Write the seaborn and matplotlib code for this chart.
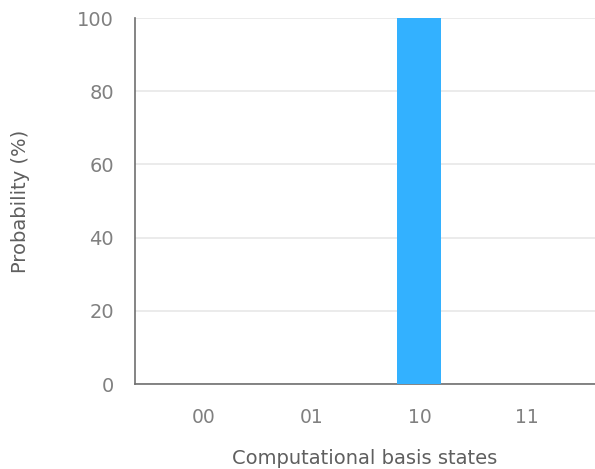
import matplotlib
matplotlib.use("Agg")
import matplotlib.pyplot as plt
import seaborn as sns
import pandas as pd

states = ["00", "01", "10", "11"]
probability = [0, 0, 100, 0]

sns.set_style("white")
plt.rcParams['font.family'] = ['DejaVu Sans']

df = pd.DataFrame({"state": states, "prob": probability})

fig = plt.figure(figsize=(5.95, 4.69), dpi=100)
ax = fig.add_axes([135 / 595, 1 - 384 / 469, 460 / 595, (384 - 18) / 469])

sns.barplot(data=df, x="state", y="prob", color="#33b1ff", width=0.41,
            saturation=1, linewidth=0, ax=ax, zorder=3)

ax.set_ylim(0, 100)
ax.set_xlim(-0.64, 3.63)
ax.set_yticks([0, 20, 40, 60, 80, 100])
ax.yaxis.grid(True, color="#e8e8e8", linewidth=1.2, zorder=0)
ax.set_axisbelow(True)

for s in ["top", "right"]:
    ax.spines[s].set_visible(False)
for s in ["left", "bottom"]:
    ax.spines[s].set_color("#6f6f6f")
    ax.spines[s].set_linewidth(1.2)

ax.tick_params(axis="y", length=0, pad=15, labelsize=14, labelcolor="#808080")
ax.tick_params(axis="x", length=6, width=1.2, color="#6f6f6f", pad=11,
               labelsize=13.5, labelcolor="#808080")

ax.set_xlabel("Computational basis states", fontsize=14, color="#5f5f5f", labelpad=16)
ax.set_ylabel("Probability (%)", fontsize=14, color="#5f5f5f", labelpad=34)

fig.savefig("out.png", dpi=100)
